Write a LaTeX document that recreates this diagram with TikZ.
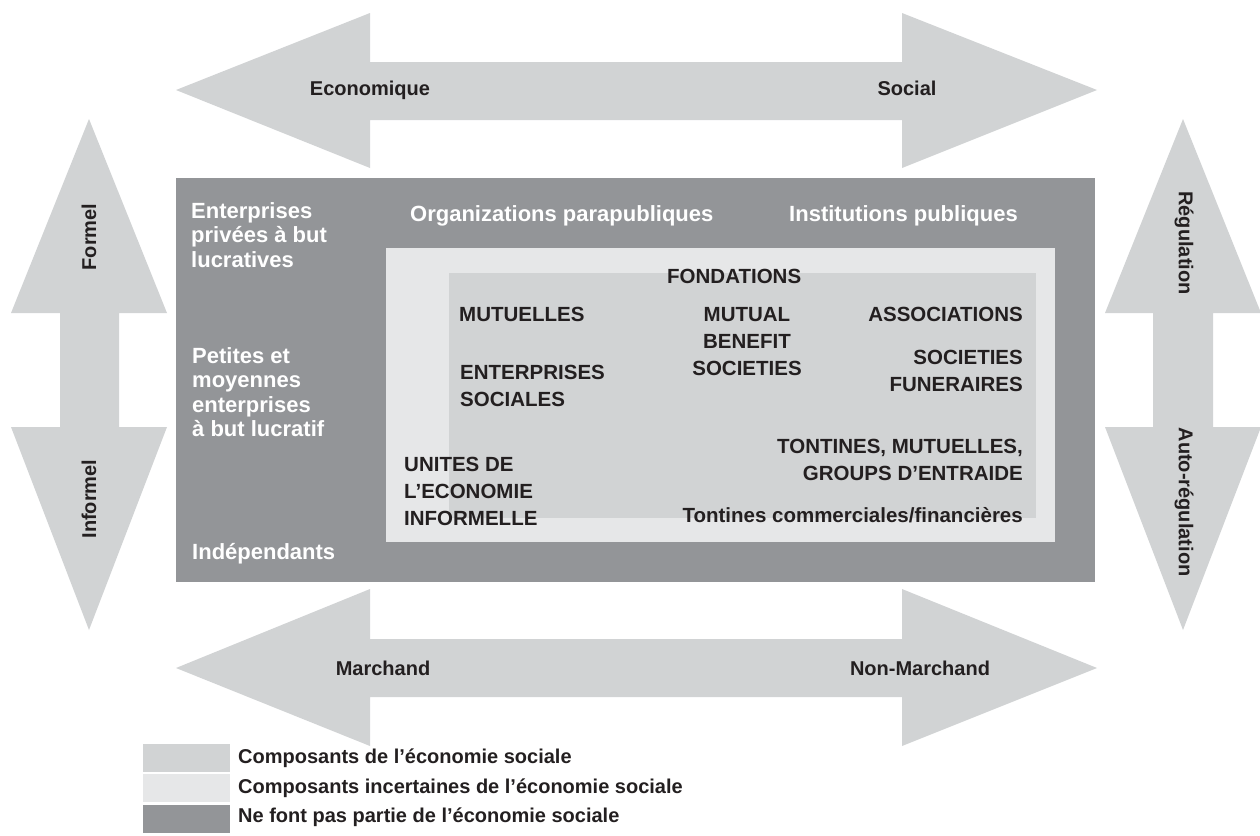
\documentclass[tikz,border=0pt]{standalone}
\usepackage{fontspec}
\setmainfont{Liberation Sans}
\definecolor{darkg}{HTML}{939598}
\definecolor{midg}{HTML}{D1D3D4}
\definecolor{lightg}{HTML}{E6E7E8}
\definecolor{ink}{HTML}{231F20}
\newcommand{\tabL}[1]{\begin{tabular}[t]{@{}l@{}}#1\end{tabular}}
\newcommand{\tabR}[1]{\begin{tabular}[t]{@{}r@{}}#1\end{tabular}}
\newcommand{\tabC}[1]{\begin{tabular}[t]{@{}c@{}}#1\end{tabular}}
\begin{document}
\begin{tikzpicture}[x=1pt,y=-1pt,
  arrowshape/.style={fill=midg,draw=none},
  arrowlabel/.style={text=ink,inner sep=0,font=\bfseries\fontsize{20}{24}\selectfont},
  wtext/.style={text=white,inner sep=0,anchor=base west,font=\bfseries\fontsize{22}{24.5}\selectfont},
  btext/.style={text=ink,inner sep=0,font=\bfseries\fontsize{20.5}{27}\selectfont},
  legtext/.style={text=ink,inner sep=0,anchor=base west,font=\bfseries\fontsize{20}{24}\selectfont}]
\useasboundingbox (0,0) rectangle (1260,835);
% horizontal arrows
\fill[arrowshape] (176,90) -- (370,13) -- (370,62) -- (902,62) -- (902,13) -- (1097,90)
  -- (902,168) -- (902,120) -- (370,120) -- (370,168) -- cycle;
\fill[arrowshape] (176,668) -- (370,589) -- (370,639) -- (902,639) -- (902,589) -- (1097,668)
  -- (902,746) -- (902,697) -- (370,697) -- (370,746) -- cycle;
% vertical arrows
\fill[arrowshape] (89,119) -- (167,313) -- (119,313) -- (119,427) -- (167,427) -- (89,630)
  -- (11,427) -- (60,427) -- (60,313) -- (11,313) -- cycle;
\fill[arrowshape] (1183,119) -- (1261,313) -- (1213,313) -- (1213,427) -- (1261,427) -- (1183,630)
  -- (1105,427) -- (1153,427) -- (1153,313) -- (1105,313) -- cycle;
% nested areas
\fill[darkg] (176,178) rectangle (1095,582);
\fill[lightg] (386,248) rectangle (1055,542);
\fill[midg] (449,273) rectangle (1036,518);
% arrow labels
\node[arrowlabel,anchor=base] (eco) at (370,95) {Economique};
\node[arrowlabel,anchor=base] (soc) at (907,95) {Social};
\node[arrowlabel,anchor=base] (mar) at (383,675) {Marchand};
\node[arrowlabel,anchor=base] (nmar) at (920,675) {Non-Marchand};
\node[arrowlabel,rotate=90] (form) at (89,237) {Formel};
\node[arrowlabel,rotate=90] (inform) at (89,499) {Informel};
\node[arrowlabel,rotate=-90] (reg) at (1184,243) {Régulation};
\node[arrowlabel,rotate=-90] (autoreg) at (1184,502) {Auto-régulation};
% white texts
\node[wtext] (entpriv) at (191,218) {\tabL{Enterprises\\privées à but\\lucratives}};
\node[wtext] (pme) at (192,363) {\tabL{Petites et\\moyennes\\enterprises\\à but lucratif}};
\node[wtext] (indep) at (192,559) {Indépendants};
\node[wtext] (para) at (410,221) {Organizations parapubliques};
\node[wtext] (instpub) at (789,221) {Institutions publiques};
% black texts
\node[btext,anchor=base west] (fond) at (667,283) {FONDATIONS};
\node[btext,anchor=base west] (mutu) at (459,321) {MUTUELLES};
\node[btext,anchor=base] (mbs) at (747,321) {\tabC{MUTUAL\\BENEFIT\\SOCIETIES}};
\node[btext,anchor=base east] (assoc) at (1023,321) {ASSOCIATIONS};
\node[btext,anchor=base west] (entsoc) at (460,379) {\tabL{ENTERPRISES\\SOCIALES}};
\node[btext,anchor=base east] (socfun) at (1023,364) {\tabR{SOCIETIES\\FUNERAIRES}};
\node[btext,anchor=base west] (unites) at (404,471) {\tabL{UNITES DE\\L’ECONOMIE\\INFORMELLE}};
\node[btext,anchor=base east] (tont) at (1023,453) {\tabR{TONTINES, MUTUELLES,\\GROUPS D’ENTRAIDE}};
\node[btext,anchor=base east] (tontcom) at (1023,522) {Tontines commerciales/financières};
% legend
\fill[midg] (143,744) rectangle (230,772);
\fill[lightg] (143,774) rectangle (230,802);
\fill[darkg] (143,805) rectangle (230,833);
\node[legtext] (leg1) at (238,763) {Composants de l’économie sociale};
\node[legtext] (leg2) at (238,793) {Composants incertaines de l’économie sociale};
\node[legtext] (leg3) at (238,822) {Ne font pas partie de l’économie sociale};
\end{tikzpicture}
\end{document}
